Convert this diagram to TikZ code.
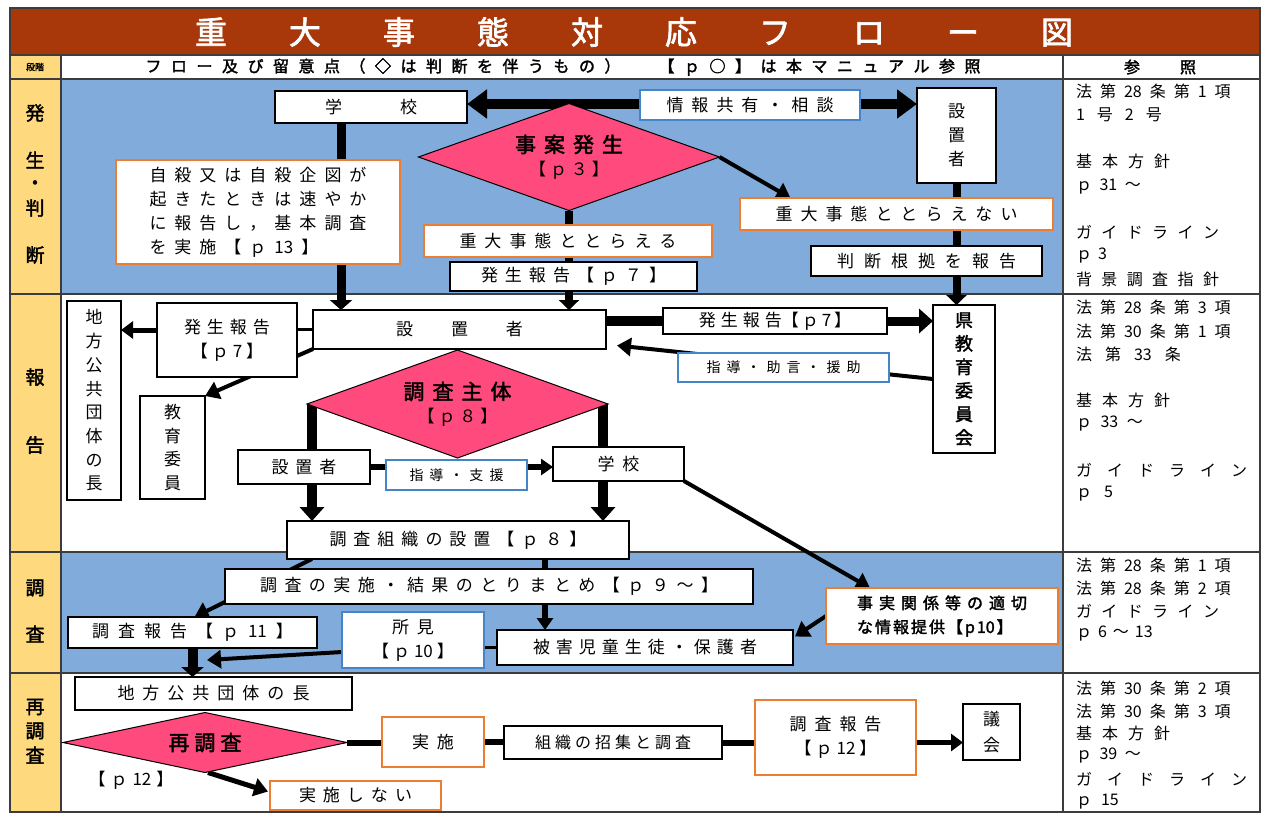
\documentclass[tikz,border=0pt]{standalone}
\usepackage{fontspec}
\setmainfont{Noto Sans CJK JP}[AutoFakeBold=2]
\usetikzlibrary{arrows.meta,shapes.geometric,calc}
\definecolor{titlebg}{RGB}{168,56,10}
\definecolor{laneY}{RGB}{255,217,125}
\definecolor{laneB}{RGB}{128,171,219}
\definecolor{dpink}{RGB}{255,74,125}
\definecolor{obord}{RGB}{237,125,49}
\definecolor{bbord}{RGB}{68,132,200}
\definecolor{gridc}{RGB}{60,60,60}
\makeatletter
\def\lsp#1#2{\def\sp@k{#1}\@tfor\sp@c:=#2\do{\sp@c\kern\sp@k}\kern-\sp@k\relax}
\def\lspE#1#2{\expandafter\sp@swap\expandafter{#2}{#1}}
\def\sp@swap#1#2{\lsp{#2}{#1}}
\makeatother
\pgfdeclarelayer{bg}
\pgfdeclarelayer{edges}
\pgfsetlayers{bg,edges,main}
\tikzset{
  every node/.style={inner sep=0pt, outer sep=0pt},
  sz/.style 2 args={minimum width=#1pt, minimum height=#2pt},
  box/.style={draw=black, fill=white, line width=2pt, font=\fontsize{17}{24}\selectfont, align=center},
  obox/.style={box, draw=obord},
  bbox/.style={box, draw=bbord},
  dia/.style={diamond, draw=black, line width=1pt, fill=dpink, font=\fontsize{17}{23}\selectfont, align=center},
  ln/.style={line width=#1, draw=black},
  ah/.style 2 args={-{Triangle[length=#1,width=#2]}},
  lab/.style={font=\bfseries\fontsize{19}{22}\selectfont},
  ref/.style={anchor=west, font=\fontsize{16}{18}\selectfont},
}
\begin{document}
\begin{tikzpicture}[x=1pt,y=-1pt]
\useasboundingbox (0,0) rectangle (1263,812);
\begin{pgfonlayer}{bg}
\fill[white] (0,0) rectangle (1263,812);
\fill[titlebg] (10,8) rectangle (1260,55);
\fill[laneY] (10,55) rectangle (61,812);
\fill[laneB] (61,79) rectangle (1063,294);
\fill[laneB] (61,552) rectangle (1063,673);
\draw[gridc,line width=1.2pt] (10,8) rectangle (1260,812);
\draw[gridc,line width=1.2pt] (10,55)--(1260,55) (10,79)--(1260,79) (10,294)--(1260,294)
  (10,552)--(1260,552) (10,673)--(1260,673) (61,55)--(61,812) (1063,55)--(1063,812);
\end{pgfonlayer}

% title and header
\node[text=white, font=\bfseries\fontsize{32}{36}\selectfont] (title) at (634,32) {\lsp{62pt}{重大事態対応フロー図}};
\node[font=\bfseries\fontsize{9}{10}\selectfont] (dankai) at (35,67) {段階};
\node[font=\bfseries\fontsize{16}{18}\selectfont] (hdr) at (563,67) {\lsp{9.5pt}{フロー及び留意点（◇は判断を伴うもの）}\hspace{38pt}\lsp{9.5pt}{【ｐ○】は本マニュアル参照}};
\node[font=\bfseries\fontsize{16}{18}\selectfont] (sansho) at (1160,67) {\lsp{40pt}{参照}};

% lane labels
\node[lab] (L1) at (35,113) {発};
\node[lab] (L2) at (35,160) {生};
\node[lab] (L3) at (35,185) {・};
\node[lab] (L4) at (35,208) {判};
\node[lab] (L5) at (35,255) {断};
\node[lab] (L6) at (35,377) {報};
\node[lab] (L7) at (35,445) {告};
\node[lab] (L8) at (35,588) {調};
\node[lab] (L9) at (35,634) {査};
\node[lab] (L10) at (35,707) {再};
\node[lab] (L11) at (35,731) {調};
\node[lab] (L12) at (35,755) {査};

% reference column
\foreach \yy/\kk/\rt [count=\i] in {
  91/8pt/法第{28}条第1項, 115/12pt/1号2号, 161/10pt/基本方針, 187/7.5pt/ｐ{31}～, 232/9.4pt/ガイドライン, 256/6pt/ｐ3, 279/9.4pt/背景調査指針,
  307/8pt/法第{28}条第3項, 331/8pt/法第{30}条第1項, 354/13pt/法第{33}条, 400/10pt/基本方針, 424/8.5pt/ｐ{33}～, 470/15pt/ガイドライン, 494/12pt/ｐ5,
  565/8pt/法第{28}条第1項, 588/8pt/法第{28}条第2項, 611/9.4pt/ガイドライン, 634/6pt/ｐ6～{13},
  688/8pt/法第{30}条第2項, 711/8pt/法第{30}条第3項, 733/10pt/基本方針, 756/7.5pt/ｐ{39}～, 779/15pt/ガイドライン, 802/9pt/ｐ{15}}
  \node[ref] (ref\i) at (1076,\yy) {\lspE{\kk}{\rt}};

% ---- row 1
\node[box, sz={192}{32}] (school1) at (371,107) {\lsp{58pt}{学校}};
\node[bbox, sz={220}{30}] (info) at (750,105) {\lsp{8pt}{情報共有・相談}};
\node[box, sz={79}{95}] (setchi1) at (956.5,135.5) {設\\置\\者};
\node[dia, aspect=2.8, minimum width=301pt, minimum height=107pt] (d1) at (569,157) {{\bfseries\fontsize{21}{24}\selectfont\lsp{8pt}{事案発生}}\\\lsp{4pt}{【ｐ３】}};
\node[obox, sz={284}{104}, align=left] (jisatsu) at (258,212) {\lsp{8pt}{自殺又は自殺企図が}\\\lsp{8pt}{起きたときは速やか}\\\lsp{8pt}{に報告し，基本調査}\\\lsp{8pt}{を実施【ｐ{13}】}};
\node[obox, sz={288}{32}] (toraeru) at (568,241) {\lsp{8pt}{重大事態ととらえる}};
\node[box, sz={247}{29}] (hassei1) at (573.5,276.5) {\lsp{7pt}{発生報告【ｐ７】}};
\node[obox, sz={313}{32}] (toraenai) at (896.5,214) {\lsp{8pt}{重大事態ととらえない}};
\node[box, sz={231}{30}] (konkyo) at (926.5,261) {\lsp{10pt}{判断根拠を報告}};

% ---- row 2
\node[box, sz={293}{39}] (setchi2) at (459.5,329.5) {\lsp{38pt}{設置者}};
\node[box, sz={140}{74}] (hassei2) at (227,340) {\lsp{6pt}{発生報告}\\\lsp{4pt}{【ｐ7】}};
\node[box, sz={54}{199}, font=\fontsize{17}{23.7}\selectfont] (chiho1) at (94,400.5) {地\\方\\公\\共\\団\\体\\の\\長};
\node[box, sz={65}{103}, font=\fontsize{17}{23.5}\selectfont] (kyoiku) at (172.5,447.5) {教\\育\\委\\員};
\node[box, sz={224}{26}] (hassei3) at (775,321) {\lsp{5pt}{発生報告}\lsp{3pt}{【ｐ7】}};
\node[box, sz={62}{148}, font=\bfseries\fontsize{18}{23.5}\selectfont] (ken) at (964,379) {県\\教\\育\\委\\員\\会};
\node[bbox, sz={211}{29}, font=\fontsize{14}{16}\selectfont] (shido1) at (783.5,367.5) {\lsp{6pt}{指導・助言・援助}};
\node[dia, aspect=2.8, minimum width=301pt, minimum height=108pt] (d2) at (457.5,404) {{\bfseries\fontsize{21}{24}\selectfont\lsp{8pt}{調査主体}}\\\lsp{4pt}{【ｐ８】}};
\node[box, sz={132}{34}] (setchi3) at (304,467) {\lsp{7pt}{設置者}};
\node[bbox, sz={141}{30}, font=\fontsize{14}{16}\selectfont] (shien) at (456.5,475) {\lsp{6pt}{指導・支援}};
\node[box, sz={131}{34}] (school2) at (618.5,464) {\lsp{8pt}{学校}};
\node[box, sz={342}{38}] (soshiki) at (458,540) {\lsp{7pt}{調査組織の設置【ｐ８】}};

% ---- row 3
\node[box, sz={528}{35}] (jisshi) at (489,586.5) {\lsp{7.5pt}{調査の実施・結果のとりまとめ【ｐ９～】}};
\node[box, sz={249}{31}] (hokoku1) at (192.5,632.5) {\lsp{9pt}{調査報告【ｐ{11}】}};
\node[bbox, sz={142}{56}] (shoken) at (413,640) {\lsp{8pt}{所見}\\\lsp{4pt}{【ｐ{10}】}};
\node[box, sz={296}{35}] (higai) at (645,647.5) {\lsp{6pt}{被害児童生徒・保護者}};
\node[obox, sz={232}{56}, align=left, font=\bfseries\fontsize{16}{24}\selectfont] (jijitsu) at (942,616) {\lsp{6pt}{事実関係等の適切}\\\lsp{2pt}{な情報提供【p{10}】}};

% ---- row 4
\node[box, sz={277}{33}] (chiho2) at (213.5,693.5) {\lsp{8pt}{地方公共団体の長}};
\node[dia, aspect=4.7, minimum width=284pt, minimum height=60pt] (d3) at (205,742.5) {{\bfseries\fontsize{21}{24}\selectfont\lsp{5pt}{再調査}}};
\node[font=\fontsize{17}{20}\selectfont] (p12) at (131,780) {\lsp{5pt}{【ｐ{12}】}};
\node[obox, sz={102}{50}] (jisshi2) at (433,742) {\lsp{8pt}{実施}};
\node[box, sz={218}{33}, font=\fontsize{16}{20}\selectfont] (shoshu) at (613,742.5) {\lsp{4pt}{組織の招集と調査}};
\node[obox, sz={161}{75}] (hokoku2) at (835.5,737.5) {\lsp{8pt}{調査報告}\\\lsp{4pt}{【ｐ{12}】}};
\node[box, sz={57}{56}, font=\fontsize{17}{26}\selectfont] (gikai) at (991.5,732) {議\\会};
\node[obox, sz={171}{29}] (shinai) at (355.5,795.5) {\lsp{7pt}{実施しない}};
\coordinate (c1) at (207,660);

% ---- connectors
\begin{pgfonlayer}{edges}
% row 1
\draw[ln=10pt, {Triangle[length=20pt,width=28pt]}-{Triangle[length=20pt,width=28pt]}] ($(school1.east)+(0,-3)$) -- ($(school1.east -| setchi1.west)+(0,-3)$);
\draw[ln=9pt, ah={10pt}{22pt}] ($(school1.south)+(-30,0)$) -- ($(school1.south |- setchi2.north)+(-30,0)$);
\draw[ln=8pt, ah={10pt}{20pt}] (d1.south) -- (d1.south |- setchi2.north);
\draw[ln=4pt, ah={14pt}{18pt}] (d1.east) -- ($(toraenai.north)+(-106,0)$);
\draw[ln=8pt, ah={10pt}{20pt}] (setchi1.south) -- (setchi1.south |- ken.north);
% row 2
\draw[ln=3pt] (setchi2.west) -- (setchi2.west -| hassei2.east);
\draw[ln=5pt, ah={12pt}{17pt}] ($(hassei2.west)+(0,-10)$) -- ($(hassei2.west -| chiho1.east)+(0,-10)$);
\draw[ln=4pt, ah={14pt}{18pt}] (setchi2.south west) -- (kyoiku.north east);
\draw[ln=10pt] (hassei3.west -| setchi2.east) -- (hassei3.west);
\draw[ln=9pt, ah={14pt}{24pt}] (hassei3.east) -- (hassei3.east -| ken.west);
\draw[ln=4pt, ah={14pt}{18pt}] (ken.west) -- ($(setchi2.east)+(11,16)$);
\draw[ln=10pt, ah={14pt}{24pt}] ($(d2.west)+(5,0)$) -- ($(d2.west |- soshiki.north)+(5,0)$);
\draw[ln=10pt, ah={14pt}{24pt}] ($(d2.east)+(-5,0)$) -- ($(d2.east |- soshiki.north)+(-5,0)$);
\draw[ln=6pt, ah={12pt}{16pt}] (setchi3.east) -- (setchi3.east -| school2.west);
\draw[ln=4pt, ah={14pt}{18pt}] (school2.south east) -- ($(jijitsu.north)+(-72,0)$);
% row 3
\draw[ln=4pt, ah={14pt}{18pt}] ($(soshiki.south west)+(25,0)$) -- ($(hokoku1.north)+(2,0)$);
\draw[ln=6pt, ah={12pt}{16pt}] ($(soshiki.south)+(87,0)$) -- ($(soshiki.south |- higai.north)+(87,0)$);
\draw[ln=3pt] (higai.west) -- (higai.west -| shoken.east);
\draw[ln=4pt, ah={14pt}{18pt}] ($(shoken.west)+(0,12)$) -- (c1);
\draw[ln=10pt, ah={10pt}{22pt}] (hokoku1.south) -- (hokoku1.south |- chiho2.north);
\draw[ln=4pt, ah={14pt}{18pt}] (jijitsu.west) -- ($(higai.east)+(2,-11)$);
% row 4
\draw[ln=6pt] (d3.east) -- (d3.east -| jisshi2.west);
\draw[ln=6pt] (jisshi2.east) -- (jisshi2.east -| shoshu.west);
\draw[ln=6pt] (shoshu.east) -- (shoshu.east -| hokoku2.west);
\draw[ln=5pt, ah={12pt}{17pt}] (shoshu.east -| hokoku2.east) -- (shoshu.east -| gikai.west);
\draw[ln=5pt, ah={14pt}{18pt}] ($(d3.south)+(3,0)$) -- ($(shinai.west)+(-2,-4)$);
\end{pgfonlayer}
\end{tikzpicture}
\end{document}
